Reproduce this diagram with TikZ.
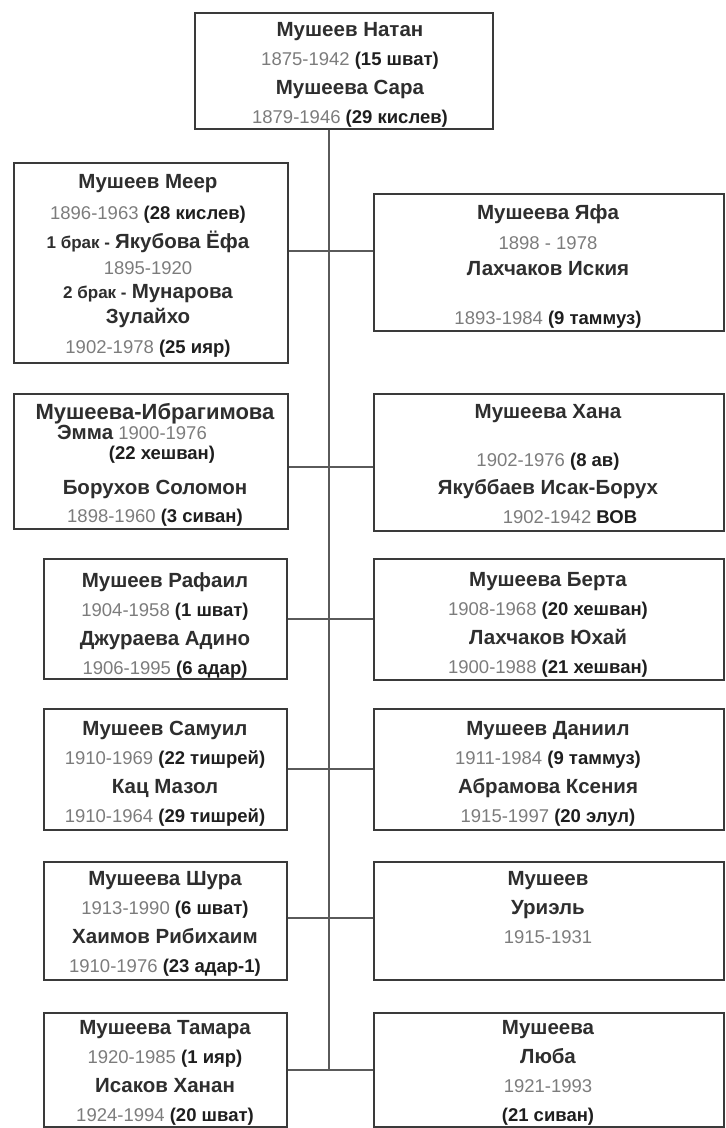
\documentclass[tikz,border=0pt]{standalone}
\usepackage{fontspec}
\setmainfont{Liberation Sans}
\definecolor{namec}{HTML}{2E2E2E}
\definecolor{yearc}{HTML}{7C7C7C}
\definecolor{hdc}{HTML}{1E1E1E}
\definecolor{boxc}{HTML}{3A3A3A}
\definecolor{linkc}{HTML}{5A5A5A}
\newcommand{\nm}[1]{{\fontsize{20.5}{20}\selectfont\bfseries\color{namec}#1}}
\newcommand{\bignm}[1]{{\fontsize{22}{20}\selectfont\bfseries\color{namec}#1}}
\newcommand{\yr}[1]{{\color{yearc}#1}}
\newcommand{\hd}[1]{{\bfseries\color{hdc}#1}}
\newcommand{\brk}[1]{{\bfseries\color{namec}\fontsize{17}{17}\selectfont #1}}
\begin{document}
\begin{tikzpicture}[x=1pt,y=-1pt,
  famrect/.style={draw=boxc, line width=1.7pt, rectangle, inner sep=0pt, anchor=north west},
  lbox/.style={famrect, minimum width=243pt},
  rbox/.style={famrect, minimum width=350pt},
  txt/.style={align=center, anchor=north, inner sep=0pt, font=\fontsize{18.5}{29}\selectfont},
  link/.style={draw=linkc, line width=1.3pt}]
\useasboundingbox (0,0) rectangle (726,1128);
% boxes
\node[famrect, minimum width=298pt, minimum height=116pt] (T) at (194,12) {};
\node[famrect, minimum width=274pt, minimum height=200pt] (L1) at (13,162) {};
\node[rbox, minimum height=137pt] (R1) at (373,193) {};
\node[famrect, minimum width=274pt, minimum height=135pt] (L2) at (13,393) {};
\node[rbox, minimum height=137pt] (R2) at (373,393) {};
\node[lbox, minimum height=120pt] (L3) at (43,558) {};
\node[rbox, minimum height=121pt] (R3) at (373,558) {};
\node[lbox, minimum height=121pt] (L4) at (43,708) {};
\node[rbox, minimum height=121pt] (R4) at (373,708) {};
\node[lbox, minimum height=118pt] (L5) at (43,861) {};
\node[rbox, minimum height=118pt] (R5) at (373,861) {};
\node[lbox, minimum height=114pt] (L6) at (43,1012) {};
\node[rbox, minimum height=114pt] (R6) at (373,1012) {};
% connectors
\coordinate (c1) at (329,251);
\coordinate (c2) at (329,467);
\coordinate (c3) at (329,619);
\coordinate (c4) at (329,769);
\coordinate (c5) at (329,918);
\coordinate (c6) at (329,1070);
\draw[link] (T.south -| c1) -- (c6);
\draw[link] (L1.east |- c1) -- (R1.west |- c1);
\draw[link] (L2.east |- c2) -- (R2.west |- c2);
\draw[link] (L3.east |- c3) -- (R3.west |- c3);
\draw[link] (L4.east |- c4) -- (R4.west |- c4);
\draw[link] (L5.east |- c5) -- (R5.west |- c5);
\draw[link] (L6.east |- c6) -- (R6.west |- c6);
% texts
\node[txt] (tT) at (350,22) {\nm{Мушеев Натан}\\ \yr{1875-1942} \hd{(15 шват)}\\ \nm{Мушеева Сара}\\ \yr{1879-1946} \hd{(29 кислев)}};
\node[txt, font=\fontsize{18.5}{24}\selectfont] (tL1) at (148,174) {\nm{Мушеев Меер}\\[7pt] \yr{1896-1963} \hd{(28 кислев)}\\[5pt] \brk{1 брак -} \nm{Якубова Ёфа}\\[2pt] \yr{1895-1920}\\ \brk{2 брак -} \nm{Мунарова}\\[1pt] \nm{Зулайхо}\\[6pt] \yr{1902-1978} \hd{(25 ияр)}};
\node[txt, font=\fontsize{18.5}{26}\selectfont] (tR1) at (548,204) {\nm{Мушеева Яфа}\\[4pt] \yr{1898 - 1978}\\ \nm{Лахчаков Иския}\\[23pt] \yr{1893-1984} \hd{(9 таммуз)}};
\node[txt, font=\fontsize{18.5}{20}\selectfont] (tL2) at (155,403) {\bignm{Мушеева-Ибрагимова}\\ \nm{Эмма} \yr{1900-1976}\rule{46pt}{0pt}\\ \rule{14pt}{0pt}\hd{(22 хешван)}\\[15pt] \nm{Борухов Соломон}\\[8pt] \yr{1898-1960} \hd{(3 сиван)}};
\node[txt, font=\fontsize{18.5}{28}\selectfont] (tR2) at (548,404) {\nm{Мушеева Хана}\\[20pt] \yr{1902-1976} \hd{(8 ав)}\\ \nm{Якуббаев Исак-Борух}\\[1pt] \hspace*{44pt}\yr{1902-1942} \hd{ВОВ}};
\node[txt] (tL3) at (165,572) {\nm{Мушеев Рафаил}\\ \yr{1904-1958} \hd{(1 шват)}\\ \nm{Джураева Адино}\\ \yr{1906-1995} \hd{(6 адар)}};
\node[txt] (tR3) at (548,572) {\nm{Мушеева Берта}\\ \yr{1908-1968} \hd{(20 хешван)}\\ \nm{Лахчаков Юхай}\\ \yr{1900-1988} \hd{(21 хешван)}};
\node[txt] (tL4) at (165,721) {\nm{Мушеев Самуил}\\ \yr{1910-1969} \hd{(22 тишрей)}\\ \nm{Кац Мазол}\\ \yr{1910-1964} \hd{(29 тишрей)}};
\node[txt] (tR4) at (548,721) {\nm{Мушеев Даниил}\\ \yr{1911-1984} \hd{(9 таммуз)}\\ \nm{Абрамова Ксения}\\ \yr{1915-1997} \hd{(20 элул)}};
\node[txt] (tL5) at (165,871) {\nm{Мушеева Шура}\\ \yr{1913-1990} \hd{(6 шват)}\\ \nm{Хаимов Рибихаим}\\ \yr{1910-1976} \hd{(23 адар-1)}};
\node[txt] (tR5) at (548,871) {\nm{Мушеев}\\ \nm{Уриэль}\\ \yr{1915-1931}};
\node[txt] (tL6) at (165,1020) {\nm{Мушеева Тамара}\\ \yr{1920-1985} \hd{(1 ияр)}\\ \nm{Исаков Ханан}\\ \yr{1924-1994} \hd{(20 шват)}};
\node[txt] (tR6) at (548,1020) {\nm{Мушеева}\\ \nm{Люба}\\ \yr{1921-1993}\\ \hd{(21 сиван)}};
\end{tikzpicture}
\end{document}
